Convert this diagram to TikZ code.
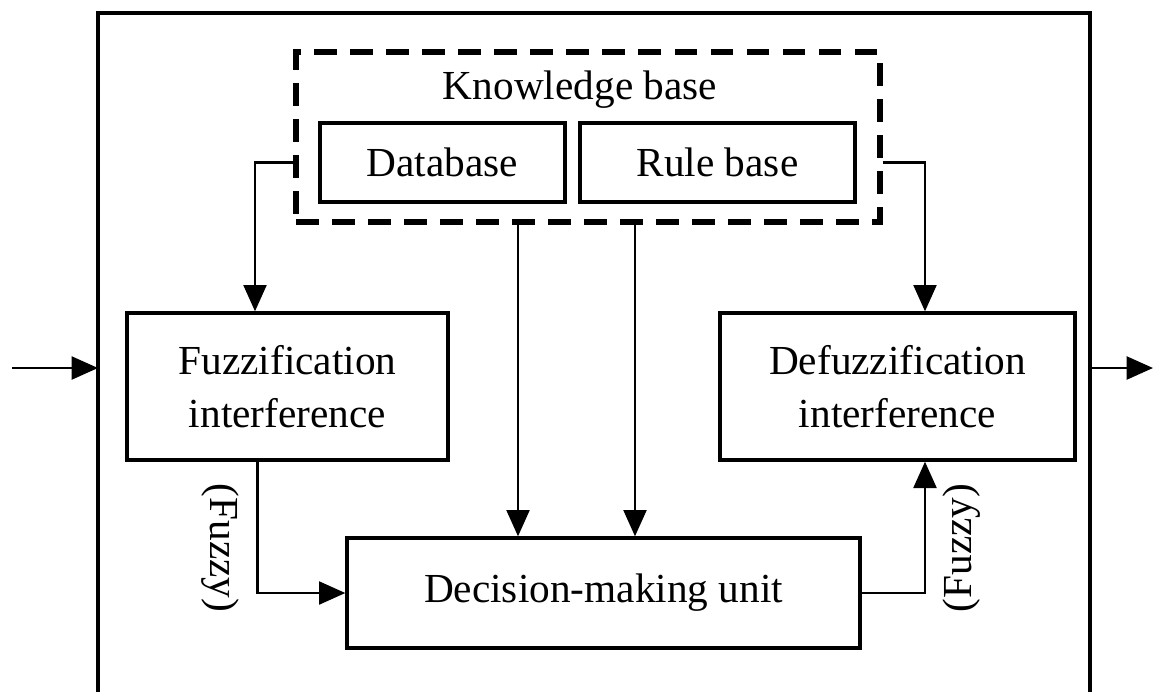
\documentclass[tikz,border=0pt]{standalone}
\usepackage{fontspec}
\setmainfont{Liberation Serif}
\usepackage{tikz}
\usetikzlibrary{arrows.meta,positioning}

\begin{document}
\begin{tikzpicture}[
  x=0.02cm, y=-0.02cm,
  font=\fontsize{23.5}{30}\selectfont,
  box/.style={draw, line width=1.9pt, align=center, inner sep=0pt},
  kbbox/.style={draw, line width=3pt, dash pattern=on 13pt off 7.5pt},
  arr/.style={-{Triangle[length=15pt, width=13pt]}, line width=1.6pt}
]
  \useasboundingbox (0,0) rectangle (1153,691);

  % outer frame (bottom edge lies outside the picture)
  \draw[line width=2.3pt] (98,700) |- (1090,13) -- (1090,700);
  \coordinate (fl) at (98,368);
  \coordinate (fr) at (1090,368);
  \coordinate (in) at (12,368);
  \coordinate (out) at (1153,368);

  \node[kbbox, minimum width=11.68cm, minimum height=3.4cm] (kb) at (588,137) {};
  \node (kbt) at (580,90) {Knowledge base};
  \node[box, minimum width=4.9cm, minimum height=1.58cm] (db) at (442.5,162.5) {Database};
  \node[box, minimum width=5.5cm, minimum height=1.58cm] (rb) at (717.5,162.5) {Rule base};

  \node[box, minimum width=6.42cm, minimum height=2.94cm] (fz) at (287.5,386.5) {Fuzzification\\interference};
  \node[box, minimum width=7.1cm, minimum height=2.94cm] (dz) at (897.5,386.5) {Defuzzification\\interference};
  \node[box, minimum width=10.26cm, minimum height=2.2cm] (dm) at (603.5,593) {Decision-making unit};

  \draw[arr] (in) -- (fl);
  \draw[arr] (fr) -- (out);

  \draw[arr] (kb.west |- db) -| ([xshift=-0.65cm]fz.north);
  \draw[arr] (kb.east |- rb) -| ([xshift=0.55cm]dz.north);
  \draw[arr] ([xshift=-1.4cm]kb.south) -- ([xshift=-1.4cm]kb.south |- dm.north);
  \draw[arr] ([xshift=0.94cm]kb.south) -- ([xshift=0.94cm]kb.south |- dm.north);

  \draw[arr] ([xshift=-0.6cm]fz.south) |- (dm.west);
  \draw[arr] (dm.east) -| ([xshift=0.55cm]dz.south);

  \node[rotate=-90] (fzl) at (220,548) {(Fuzzy)};
  \node[rotate=90] (dzl) at (962,548) {(Fuzzy)};
\end{tikzpicture}
\end{document}
